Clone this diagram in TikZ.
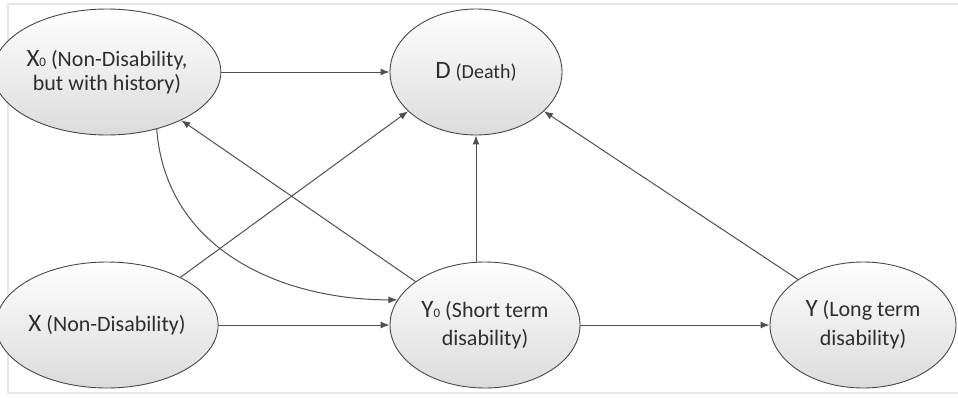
\documentclass[tikz,border=0pt]{standalone}
\usepackage{fontspec}
\setmainfont{Carlito}
\usetikzlibrary{shapes.geometric,arrows.meta}
\definecolor{txt}{HTML}{2E2E2E}
\definecolor{edge}{HTML}{505050}
\tikzset{
  state/.style={ellipse, draw=edge!90!black, line width=0.9pt, top color=white, bottom color=black!14,
    inner sep=0pt, align=center, text=txt, font=\fontsize{22}{27}\selectfont},
  arr/.style={draw=edge, line width=1pt, -{Latex[length=9pt,width=7pt]}}
}
\newcommand{\bigL}[1]{{\fontsize{25}{26}\selectfont #1}}
\newcommand{\subz}{{\fontsize{13}{13}\selectfont 0}}
\begin{document}
\begin{tikzpicture}[x=1pt,y=-1pt]
\useasboundingbox (0,0) rectangle (958,397);
\draw[black!10, line width=1.2pt] (962,4) -- (8,4) -- (8,393) -- (962,393);

\node[state, minimum width=190, minimum height=126, font=\fontsize{22}{24}\selectfont] (X0) at (107,72)
  {\bigL{X}\subz\ (Non-Disability,\\ but with history)};
\node[state, minimum width=172, minimum height=126] (D) at (476,72) {\bigL{D} {\fontsize{20}{24}\selectfont(Death)}};
\node[state, minimum width=190, minimum height=126] (X) at (107,325) {\bigL{X} (Non-Disability)};
\node[state, minimum width=190, minimum height=126, font=\fontsize{22}{28}\selectfont] (Y0) at (485,325)
  {\bigL{Y}\subz\ (Short term\\ disability)};
\node[state, minimum width=186, minimum height=126, font=\fontsize{22}{29}\selectfont] (Y) at (863,325)
  {\bigL{Y} (Long term\\ disability)};

\draw[arr] (X0) -- (D);
\draw[arr] (X) -- (Y0);
\draw[arr] (Y0) -- (Y);
\draw[arr] (D.south |- Y0.north) -- (D.south);
\draw[arr] (Y0.148) -- (X0.-33);
\draw[arr] (X.33) -- (D.210);
\draw[arr] (Y.145) -- (D.-30);
\draw[arr] (X0.-49) .. controls +(10,125) and +(-110,0) .. (Y0.164);
\end{tikzpicture}
\end{document}
